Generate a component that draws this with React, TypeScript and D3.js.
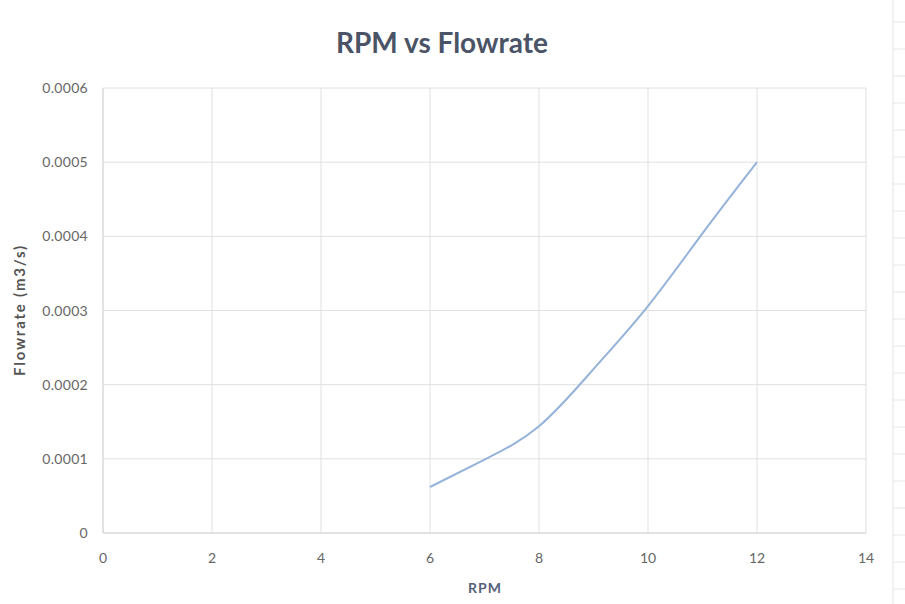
import React from "react";
import * as d3 from "d3";

const rpm = [6, 7, 8, 9, 10, 11, 12];
const flowrate = [0.000062, 0.000099, 0.000144, 0.000221, 0.000306, 0.000404, 0.0005];
const xTicks = [0, 2, 4, 6, 8, 10, 12, 14];
const yTicks = [0, 0.0001, 0.0002, 0.0003, 0.0004, 0.0005, 0.0006];
const yTickLabels = ["0", "0.0001", "0.0002", "0.0003", "0.0004", "0.0005", "0.0006"];
const title = "RPM vs Flowrate";
const xTitle = "RPM";
const yTitle = "Flowrate (m3/s)";

const W = 905, H = 604;
const left = 103, right = 866, top = 88, bottom = 533;
const font = "Lato, 'Open Sans', sans-serif";

export default function App() {
  const x = d3.scaleLinear().domain([0, 14]).range([left, right]);
  const y = d3.scaleLinear().domain([0, 0.0006]).range([bottom, top]);
  const line = d3
    .line<number>()
    .x((_, i) => x(rpm[i]))
    .y((d) => y(d))
    .curve(d3.curveNatural);
  const sheetRows = d3.range(0, H, 27);
  return (
    <svg width={W} height={H} style={{ position: "absolute", left: 0, top: 0, background: "#fff" }}>
      <rect width={W} height={H} fill="#fff" />
      <line x1={893} x2={893} y1={0} y2={H} stroke="#e3e3e3" strokeWidth={1} />
      {sheetRows.map((r) => (
        <line key={r} x1={893} x2={905} y1={r + 22} y2={r + 22} stroke="#e6e6e6" strokeWidth={1} />
      ))}
      {yTicks.map((t) => (
        <line key={"gy" + t} x1={left} x2={right} y1={y(t)} y2={y(t)} stroke="#e0e0e0" strokeWidth={1} />
      ))}
      {xTicks.map((t) => (
        <line key={"gx" + t} x1={x(t)} x2={x(t)} y1={top} y2={bottom} stroke="#e0e0e0" strokeWidth={1} />
      ))}
      <line x1={left} x2={right} y1={bottom} y2={bottom} stroke="#d4d4d4" strokeWidth={1} />
      <line x1={left} x2={left} y1={top} y2={bottom} stroke="#d4d4d4" strokeWidth={1} />
      <path d={line(flowrate) || ""} fill="none" stroke="#95b3d9" strokeWidth={2} />
      {yTicks.map((t, i) => (
        <text key={"ly" + t} x={left - 15} y={y(t) + 5} textAnchor="end" fontSize={14} letterSpacing={0.3} fill="#666" fontFamily={font}>
          {yTickLabels[i]}
        </text>
      ))}
      {xTicks.map((t) => (
        <text key={"lx" + t} x={x(t)} y={bottom + 30} textAnchor="middle" fontSize={14} fill="#666" fontFamily={font}>
          {t}
        </text>
      ))}
      <text x={442} y={53} textAnchor="middle" fontSize={28} fontWeight="bold" fill="#4a5466" fontFamily={font}>
        {title}
      </text>
      <text x={485} y={593} textAnchor="middle" fontSize={14} fontWeight="bold" letterSpacing={1} fill="#56627a" fontFamily={font}>
        {xTitle}
      </text>
      <text
        transform={`translate(25, 310) rotate(-90)`}
        textAnchor="middle"
        fontSize={15}
        fontWeight="bold"
        letterSpacing={1.8}
        fill="#555"
        fontFamily={font}
      >
        {yTitle}
      </text>
    </svg>
  );
}
